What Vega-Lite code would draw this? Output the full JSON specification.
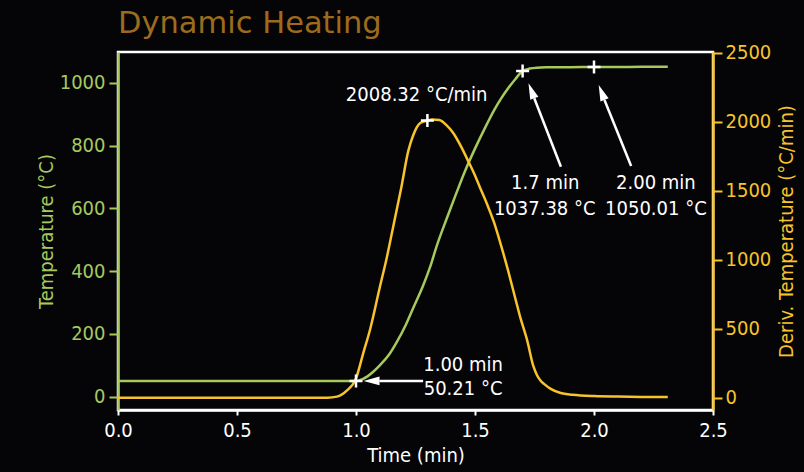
{
  "$schema": "https://vega.github.io/schema/vega-lite/v6.json",
  "width": 595,
  "height": 358,
  "autosize": {"type": "none"},
  "padding": {"left": 118, "top": 52, "right": 91, "bottom": 62},
  "background": "#050507",
  "config": {
    "view": {"stroke": "#ffffff", "strokeWidth": 2.5},
    "axis": {"grid": false, "labelFlush": false, "labelOverlap": false}
  },
  "title": {
    "text": "Dynamic Heating",
    "anchor": "start",
    "frame": "group",
    "font": "DejaVu Sans",
    "fontSize": 30.5,
    "fontWeight": "normal",
    "color": "#9c6b1e",
    "baseline": "alphabetic",
    "offset": -21
  },
  "datasets": {
    "temp": [
      {"t": 0, "T": 50.21}, {"t": 0.25, "T": 50.21}, {"t": 0.5, "T": 50.21}, {"t": 0.75, "T": 50.21},
      {"t": 0.95, "T": 50.21}, {"t": 1.0, "T": 50.21}, {"t": 1.03, "T": 57}, {"t": 1.07, "T": 78},
      {"t": 1.10, "T": 100}, {"t": 1.14, "T": 135}, {"t": 1.17, "T": 172}, {"t": 1.21, "T": 230},
      {"t": 1.24, "T": 282}, {"t": 1.28, "T": 350}, {"t": 1.31, "T": 410}, {"t": 1.34, "T": 482},
      {"t": 1.38, "T": 565}, {"t": 1.42, "T": 645}, {"t": 1.46, "T": 722}, {"t": 1.50, "T": 790},
      {"t": 1.54, "T": 853}, {"t": 1.58, "T": 912}, {"t": 1.61, "T": 950}, {"t": 1.64, "T": 983},
      {"t": 1.67, "T": 1012}, {"t": 1.70, "T": 1037.38}, {"t": 1.73, "T": 1045}, {"t": 1.76, "T": 1048},
      {"t": 1.80, "T": 1049}, {"t": 1.90, "T": 1049.6}, {"t": 2.0, "T": 1050.01}, {"t": 2.1, "T": 1050.3},
      {"t": 2.2, "T": 1050.5}, {"t": 2.31, "T": 1050.6}
    ],
    "deriv": [
      {"t": 0, "V": 0}, {"t": 0.5, "V": 0}, {"t": 0.88, "V": 0}, {"t": 0.92, "V": 8},
      {"t": 0.96, "V": 50}, {"t": 1.0, "V": 140}, {"t": 1.03, "V": 320}, {"t": 1.06, "V": 500},
      {"t": 1.10, "V": 800}, {"t": 1.13, "V": 1020}, {"t": 1.16, "V": 1270}, {"t": 1.19, "V": 1520},
      {"t": 1.22, "V": 1790}, {"t": 1.24, "V": 1900}, {"t": 1.27, "V": 1990}, {"t": 1.30, "V": 2008.32},
      {"t": 1.32, "V": 2016}, {"t": 1.35, "V": 2012}, {"t": 1.38, "V": 1975}, {"t": 1.41, "V": 1915},
      {"t": 1.44, "V": 1825}, {"t": 1.47, "V": 1720}, {"t": 1.50, "V": 1610}, {"t": 1.52, "V": 1527},
      {"t": 1.55, "V": 1405}, {"t": 1.58, "V": 1270}, {"t": 1.61, "V": 1100}, {"t": 1.64, "V": 915},
      {"t": 1.67, "V": 715}, {"t": 1.69, "V": 584}, {"t": 1.72, "V": 410}, {"t": 1.745, "V": 230},
      {"t": 1.76, "V": 165}, {"t": 1.775, "V": 125}, {"t": 1.79, "V": 100}, {"t": 1.82, "V": 62},
      {"t": 1.86, "V": 34}, {"t": 1.91, "V": 22}, {"t": 2.0, "V": 12}, {"t": 2.1, "V": 8},
      {"t": 2.2, "V": 6}, {"t": 2.31, "V": 5}
    ],
    "tmarks": [
      {"t": 1.0, "T": 50.21}, {"t": 1.7, "T": 1037.38}, {"t": 2.0, "T": 1050.01}
    ],
    "dmarks": [
      {"t": 1.3, "V": 2008.32}
    ],
    "labels": [
      {"t": 1.255, "T": 961, "label": "2008.32 °C/min"},
      {"t": 1.45, "T": 101, "label": "1.00 min"},
      {"t": 1.45, "T": 24.5, "label": "50.21 °C"},
      {"t": 1.795, "T": 679, "label": "1.7 min"},
      {"t": 1.793, "T": 598, "label": "1037.38 °C"},
      {"t": 2.26, "T": 679, "label": "2.00 min"},
      {"t": 2.26, "T": 598, "label": "1050.01 °C"}
    ],
    "arrows": [
      {"t": 1.098, "T": 50.21, "t2": 1.282, "T2": 50.21},
      {"t": 1.749, "T": 950.6, "t2": 1.861, "T2": 732.5},
      {"t": 2.044, "T": 945.2, "t2": 2.156, "T2": 734.7}
    ],
    "heads": [
      {"t": 1.065, "T": 50.21, "kind": "left"},
      {"t": 1.737, "T": 974.2, "kind": "slant"},
      {"t": 2.032, "T": 969.1, "kind": "slant"}
    ]
  },
  "layer": [
    {
      "data": {"name": "temp"},
      "mark": {"type": "line", "color": "#a7c95d", "strokeWidth": 2.5, "interpolate": "monotone"},
      "encoding": {
        "x": {
          "field": "t", "type": "quantitative",
          "scale": {"domain": [0, 2.5], "nice": false, "zero": false},
          "axis": {
            "orient": "bottom", "values": [0, 0.5, 1, 1.5, 2, 2.5], "format": ".1f",
            "title": "Time (min)",
            "domainColor": "#ffffff", "domainWidth": 2.5,
            "tickColor": "#ffffff", "tickWidth": 2, "tickSize": 5,
            "labelColor": "#ffffff", "titleColor": "#ffffff",
            "labelFont": "DejaVu Sans Condensed", "titleFont": "DejaVu Sans Condensed",
            "labelFontSize": 20, "titleFontSize": 20, "titleFontWeight": "normal",
            "labelPadding": 5, "titlePadding": 5
          }
        },
        "y": {
          "field": "T", "type": "quantitative",
          "scale": {"domain": [-42.4, 1097.8], "nice": false, "zero": false},
          "axis": {
            "orient": "left", "values": [0, 200, 400, 600, 800, 1000], "format": "d",
            "title": "Temperature (°C)",
            "domainColor": "#a7c95d", "domainWidth": 2.5,
            "tickColor": "#a7c95d", "tickWidth": 2, "tickSize": 9,
            "labelColor": "#a7c95d", "titleColor": "#a7c95d",
            "labelFont": "DejaVu Sans Condensed", "titleFont": "DejaVu Sans Condensed",
            "labelFontSize": 20, "titleFontSize": 20, "titleFontWeight": "normal",
            "labelPadding": 4, "titlePadding": 3
          }
        }
      }
    },
    {
      "data": {"name": "deriv"},
      "mark": {"type": "line", "color": "#f8c32c", "strokeWidth": 2.5, "interpolate": "monotone"},
      "encoding": {
        "x": {"field": "t", "type": "quantitative", "scale": {"domain": [0, 2.5], "nice": false, "zero": false}},
        "y": {
          "field": "V", "type": "quantitative",
          "scale": {"domain": [-89, 2505], "nice": false, "zero": false},
          "axis": {
            "orient": "right", "values": [0, 500, 1000, 1500, 2000, 2500], "format": "d",
            "title": "Deriv. Temperature (°C/min)",
            "titleAngle": 270, "titleBaseline": "top",
            "domainColor": "#f8c32c", "domainWidth": 2.5,
            "tickColor": "#f8c32c", "tickWidth": 2, "tickSize": 9,
            "labelColor": "#f8c32c", "titleColor": "#f8c32c",
            "labelFont": "DejaVu Sans Condensed", "titleFont": "DejaVu Sans Condensed",
            "labelFontSize": 20, "titleFontSize": 20, "titleFontWeight": "normal",
            "labelPadding": 3, "titlePadding": 6
          }
        }
      }
    },
    {
      "data": {"name": "arrows"},
      "mark": {"type": "rule", "color": "#ffffff", "strokeWidth": 2.5},
      "encoding": {
        "x": {"field": "t", "type": "quantitative", "scale": {"domain": [0, 2.5], "nice": false, "zero": false}},
        "x2": {"field": "t2"},
        "y": {"field": "T", "type": "quantitative", "scale": {"domain": [-42.4, 1097.8], "nice": false, "zero": false}, "axis": null},
        "y2": {"field": "T2"}
      }
    },
    {
      "data": {"name": "heads"},
      "transform": [{"filter": "datum.kind === 'left'"}],
      "mark": {"type": "point", "shape": "M0,-1L0.55,1L-0.55,1Z", "filled": true, "color": "#ffffff", "opacity": 1, "size": 256, "angle": 270},
      "encoding": {
        "x": {"field": "t", "type": "quantitative", "scale": {"domain": [0, 2.5], "nice": false, "zero": false}},
        "y": {"field": "T", "type": "quantitative", "scale": {"domain": [-42.4, 1097.8], "nice": false, "zero": false}, "axis": null}
      }
    },
    {
      "data": {"name": "heads"},
      "transform": [{"filter": "datum.kind === 'slant'"}],
      "mark": {"type": "point", "shape": "M0,-1L0.55,1L-0.55,1Z", "filled": true, "color": "#ffffff", "opacity": 1, "size": 256, "angle": 338.6},
      "encoding": {
        "x": {"field": "t", "type": "quantitative", "scale": {"domain": [0, 2.5], "nice": false, "zero": false}},
        "y": {"field": "T", "type": "quantitative", "scale": {"domain": [-42.4, 1097.8], "nice": false, "zero": false}, "axis": null}
      }
    },
    {
      "data": {"name": "tmarks"},
      "mark": {"type": "point", "shape": "M-1,0H1M0,-1V1", "filled": false, "stroke": "#ffffff", "strokeWidth": 2.5, "opacity": 1, "size": 169},
      "encoding": {
        "x": {"field": "t", "type": "quantitative", "scale": {"domain": [0, 2.5], "nice": false, "zero": false}},
        "y": {"field": "T", "type": "quantitative", "scale": {"domain": [-42.4, 1097.8], "nice": false, "zero": false}, "axis": null}
      }
    },
    {
      "data": {"name": "dmarks"},
      "mark": {"type": "point", "shape": "M-1,0H1M0,-1V1", "filled": false, "stroke": "#ffffff", "strokeWidth": 2.5, "opacity": 1, "size": 169},
      "encoding": {
        "x": {"field": "t", "type": "quantitative", "scale": {"domain": [0, 2.5], "nice": false, "zero": false}},
        "y": {"field": "V", "type": "quantitative", "scale": {"domain": [-89, 2505], "nice": false, "zero": false}, "axis": null}
      }
    },
    {
      "data": {"name": "labels"},
      "mark": {"type": "text", "color": "#ffffff", "fontSize": 20, "align": "center", "baseline": "middle", "font": "DejaVu Sans Condensed"},
      "encoding": {
        "x": {"field": "t", "type": "quantitative", "scale": {"domain": [0, 2.5], "nice": false, "zero": false}},
        "y": {"field": "T", "type": "quantitative", "scale": {"domain": [-42.4, 1097.8], "nice": false, "zero": false}, "axis": null},
        "text": {"field": "label"}
      }
    }
  ],
  "resolve": {"scale": {"y": "independent"}, "axis": {"y": "independent"}}
}
